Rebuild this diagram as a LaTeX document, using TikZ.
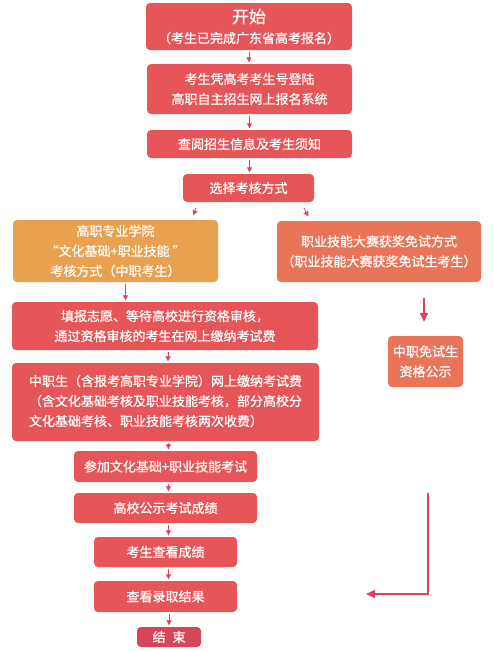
\documentclass[tikz,border=0pt]{standalone}
\usepackage{fontspec}
\setmainfont{Noto Sans CJK SC}[FakeBold=0.8]
\usetikzlibrary{arrows.meta}
\definecolor{boxred}{HTML}{E65658}
\definecolor{boxorange}{HTML}{E9A04F}
\definecolor{boxcoral}{HTML}{EA7458}
\definecolor{boxend}{HTML}{D64559}
\definecolor{arrowred}{HTML}{E2405C}
\begin{document}
\begin{tikzpicture}
  [x=1pt,y=-1pt,
  box/.style={rectangle,rounded corners=4pt,fill=boxred,text=white,align=center,
    inner sep=0pt,font=\fontsize{13}{20}\selectfont},
  orangebox/.style={box,fill=boxorange},
  coralbox/.style={box,fill=boxcoral},
  endbox/.style={box,fill=boxend},
  arr/.style={draw=arrowred,thick,shorten <=2pt,shorten >=1.5pt,-{Triangle[length=5pt,width=5pt]}},
  bigarr/.style={draw=arrowred,line width=1.6pt,-{Triangle[length=9pt,width=8pt]}}]

  \useasboundingbox (0,0) rectangle (494,651);

  \node[box,minimum width=206pt,minimum height=47pt] (start) at (249,26.5)
    {{\fontsize{17}{20}\selectfont 开始}\\（考生已完成广东省高考报名）};
  \node[box,minimum width=205pt,minimum height=50pt] (login) at (249.5,89)
    {考生凭高考考生号登陆\\高职自主招生网上报名系统};
  \node[box,minimum width=205pt,minimum height=28pt] (info) at (249.5,144) {查阅招生信息及考生须知};
  \node[box,minimum width=131pt,minimum height=28pt] (choose) at (248.5,188) {选择考核方式};

  \node[orangebox,minimum width=205pt,minimum height=62pt] (pathway) at (115.5,251)
    {高职专业学院\\“文化基础+职业技能 ”\\考核方式（中职考生）};
  \node[coralbox,minimum width=204pt,minimum height=61pt] (award) at (379,251.5)
    {职业技能大赛获奖免试方式\\（职业技能大赛获奖免试生考生）};

  \node[box,minimum width=306pt,minimum height=48pt] (apply) at (165,326)
    {填报志愿、等待高校进行资格审核，\\通过资格审核的考生在网上缴纳考试费};
  \node[box,minimum width=307pt,minimum height=78pt] (fee) at (165.5,402)
    {\begin{tabular}{@{}l@{}}中职生（含报考高职专业学院）网上缴纳考试费\\（含文化基础考核及职业技能考核，部分高校分\\文化基础考核、职业技能考核两次收费）\end{tabular}};
  \node[coralbox,minimum width=75pt,minimum height=51pt] (exempt) at (425.5,361.5)
    {中职免试生\\资格公示};

  \node[box,minimum width=183pt,minimum height=31pt] (exam) at (165.5,466.5) {参加文化基础+职业技能考试};
  \node[box,minimum width=183pt,minimum height=30pt] (score) at (165.5,508) {高校公示考试成绩};
  \node[box,minimum width=143pt,minimum height=30pt] (check) at (165.5,552) {考生查看成绩};
  \node[box,minimum width=143pt,minimum height=31pt] (result) at (165.5,596.5) {查看录取结果};
  \node[endbox,minimum width=64pt,minimum height=20pt] (finish) at (169,637) {结\hspace{7pt}束};

  \coordinate (ret) at (428,493);
  \coordinate (retend) at (366,594);

  \draw[arr] (start.south |- start.south) -- (start.south |- login.north);
  \draw[arr] (login) -- (info);
  \draw[arr] (info) -- (info.south |- choose.north);
  \draw[arr] ([xshift=-52pt,yshift=-4pt]choose.south) -- ([xshift=77.5pt,yshift=3pt]pathway.north);
  \draw[arr] ([xshift=54.5pt,yshift=-4pt]choose.south) -- ([xshift=-70pt,yshift=3pt]award.north);
  \draw[arr] ([xshift=10pt]pathway.south) -- ([xshift=10pt]pathway.south |- apply.north);
  \draw[arr] ([xshift=3pt]apply.south) -- ([xshift=3pt]apply.south |- fee.north);
  \draw[bigarr] ([xshift=45pt,yshift=-16pt]award.south) -- ([xshift=-1.5pt,yshift=14pt]exempt.north);
  \draw[arr] ([xshift=3pt]fee.south) -- ([xshift=3pt]fee.south |- exam.north);
  \draw[arr] ([xshift=3pt]exam.south) -- ([xshift=3pt]exam.south |- score.north);
  \draw[arr] ([xshift=3pt]score.south) -- ([xshift=3pt]score.south |- check.north);
  \draw[arr] ([xshift=3pt]check.south) -- ([xshift=3pt]check.south |- result.north);
  \draw[arr] (finish.north |- result.south) -- (finish.north);
  \draw[bigarr] (ret) |- (retend);

\end{tikzpicture}
\end{document}
